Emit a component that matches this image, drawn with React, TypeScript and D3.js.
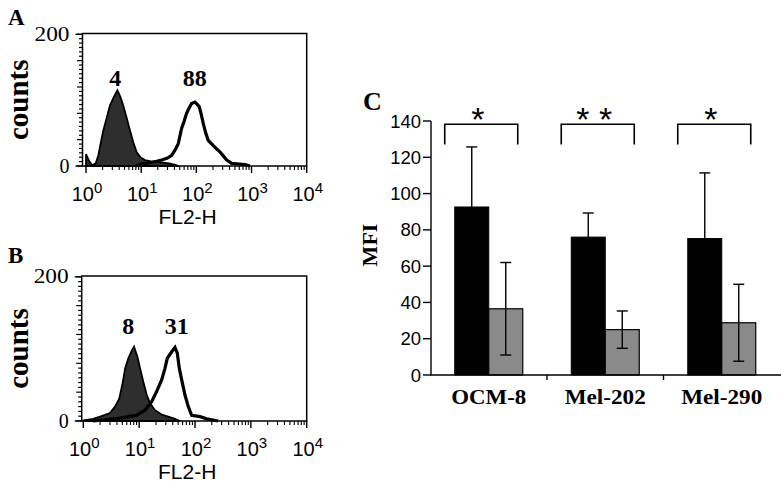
import React from 'react';
import * as d3 from 'd3';

// ---------- Data ----------
// Flow cytometry histograms: [FL2-H intensity, counts]
const histAFilled: [number, number][] = [
  [1, 18], [1.13, 8], [1.3, 1], [1.5, 4], [1.67, 16], [1.85, 35], [2.06, 54], [2.4, 75],
  [2.72, 92], [3.2, 105], [3.7, 115], [4.2, 105], [4.73, 92], [5.5, 72], [6.27, 54],
  [7.2, 36], [8.3, 21], [9.8, 13], [11.7, 9], [15, 7], [19.1, 6], [25, 5], [32, 4],
  [40, 2], [48, 0],
];
const histAOpen: [number, number][] = [
  [8, 0], [10, 3], [14, 5], [19, 7], [23.5, 9], [30, 12], [35.7, 16], [41, 24], [47, 34],
  [54, 57], [60, 68], [66.5, 80], [74, 88], [82, 95], [94, 97], [103, 94], [113, 90],
  [123, 78], [133, 65], [148, 50], [164, 39], [203, 31], [240, 25], [270, 21], [310, 15],
  [355, 9], [436, 4], [600, 3], [760, 2], [935, 0],
];
const histBFilled: [number, number][] = [
  [1, 1], [1.5, 3], [2, 6], [3, 11], [3.7, 20], [4.4, 31], [5.1, 54], [5.6, 73], [6.4, 87],
  [7.4, 98], [8.1, 103], [9.3, 89], [10.4, 73], [11.9, 54], [13.7, 36], [15.6, 25],
  [19.2, 15], [25.3, 9], [33, 6], [43.8, 3], [54, 0],
];
const histBOpen: [number, number][] = [
  [1.5, 0], [2, 1], [4.5, 4], [9, 8], [12.7, 15], [16.8, 27], [20.6, 41], [25.3, 57],
  [29, 73], [31.9, 87], [38.3, 96], [43.8, 102], [48.2, 94], [52.4, 73], [57.8, 57],
  [66.1, 36], [75.8, 20], [87.2, 8], [123, 6], [162, 3], [261, 0],
];
const histALabels = ['4', '88'];
const histBLabels = ['8', '31'];
const logTicks = [1, 10, 100, 1000, 10000];
const countTicks = [0, 200];

// Bar chart (panel C)
const categories = ['OCM-8', 'Mel-202', 'Mel-290'];
const blackMeans = [92.6, 76, 75.2];
const blackErr = [33.1, 13.3, 36.2];
const grayMeans = [36.5, 25, 28.8];
const grayErr = [25.5, 10.3, 21.2];
const significance = ['*', '* *', '*'];
const mfiTicks = [0, 20, 40, 60, 80, 100, 120, 140];

const SERIF = '"Liberation Serif", "Times New Roman", serif';
const SANS = '"Liberation Sans", Arial, sans-serif';

type HistProps = {
  letter: string;
  filled: [number, number][];
  open: [number, number][];
  labels: string[];
  labelAt: number[];
  box: { x0: number; x1: number; y0: number; y1: number };
  xStart: number;
  letterY: number;
};

function Hist({ letter, filled, open, labels, labelAt, box, xStart, letterY }: HistProps) {
  const x = d3.scaleLog().domain([1, 10000]).range([xStart, box.x1]);
  const y = d3.scaleLinear().domain([0, 200]).range([box.y1, box.y0 + 0.8]);
  const area = d3.area<[number, number]>().x(d => x(d[0])).y0(y(0)).y1(d => y(d[1]));
  const line = d3.line<[number, number]>().x(d => x(d[0])).y(d => y(d[1]));
  const minorX: number[] = [];
  for (let e = 0; e < 4; e++) for (let k = 2; k <= 9; k++) minorX.push(k * Math.pow(10, e));
  const minorY = d3.range(0, 31).map(i => (i * 200) / 30);
  const cy = (box.y0 + box.y1) / 2;
  return (
    <g>
      <text x={8} y={letterY} fontFamily={SERIF} fontWeight="bold" fontSize={23}>{letter}</text>
      <path d={area(filled) || ''} fill="#2e2e2e" stroke="#000" strokeWidth={1.8} />
      <path d={line(open) || ''} fill="none" stroke="#000" strokeWidth={3.2} strokeLinejoin="miter" />
      <rect x={box.x0} y={box.y0} width={box.x1 - box.x0} height={box.y1 - box.y0} fill="none" stroke="#000" strokeWidth={1.5} />
      {minorY.map((v, i) => (
        <line key={'my' + i} x1={box.x0} x2={box.x0 - (i % 6 === 0 ? 5.5 : 3.5)} y1={y(v)} y2={y(v)} stroke="#000" strokeWidth={1.2} />
      ))}
      {countTicks.map(v => (
        <g key={'ct' + v}>
          <line x1={box.x0} x2={box.x0 - 7} y1={y(v)} y2={y(v)} stroke="#000" strokeWidth={1.4} />
          <text x={box.x0 - 13} y={y(v) + 6.5} textAnchor="end" fontFamily={SERIF} fontSize={20}
            textLength={v === 200 ? 35 : undefined} lengthAdjust="spacingAndGlyphs">{v}</text>
        </g>
      ))}
      {minorX.map((v, i) => (
        <line key={'mx' + i} x1={x(v)} x2={x(v)} y1={box.y1} y2={box.y1 + 4} stroke="#000" strokeWidth={1.1} />
      ))}
      {logTicks.map((v, i) => (
        <g key={'lt' + v}>
          <line x1={x(v)} x2={x(v)} y1={box.y1} y2={box.y1 + 7} stroke="#000" strokeWidth={1.4} />
          <text x={x(v) + 1} y={box.y1 + 35} textAnchor="middle" fontFamily={SANS} fontSize={20}>
            10<tspan dy={-8} fontSize={15}>{i}</tspan>
          </text>
        </g>
      ))}
      <text x={(box.x0 + box.x1) / 2 - 7} y={box.y1 + 58} textAnchor="middle" fontFamily={SANS} fontSize={21}>FL2-H</text>
      <text transform={`translate(28,${cy}) rotate(-90)`} textAnchor="middle" fontFamily={SERIF} fontWeight="bold" fontSize={29}>counts</text>
      {labels.map((t, i) => (
        <text key={'hl' + i} x={x(labelAt[i])} y={y(121)} textAnchor="middle" fontFamily={SERIF} fontWeight="bold" fontSize={24}>{t}</text>
      ))}
    </g>
  );
}

function Bars() {
  const x = d3.scaleBand<string>().domain(categories).range([430.5, 780]).padding(0);
  const y = d3.scaleLinear().domain([0, 140]).range([375, 121]);
  const bw = 34;
  const cap = 5.5;
  const axisX = 431;
  const errBar = (cx: number, m: number, e: number, key: string) => (
    <g key={key}>
      <line x1={cx} x2={cx} y1={y(m - e)} y2={y(m + e)} stroke="#000" strokeWidth={1.4} />
      <line x1={cx - cap} x2={cx + cap} y1={y(m + e)} y2={y(m + e)} stroke="#000" strokeWidth={1.4} />
      <line x1={cx - cap} x2={cx + cap} y1={y(m - e)} y2={y(m - e)} stroke="#000" strokeWidth={1.4} />
    </g>
  );
  return (
    <g>
      <text x={363} y={110} fontFamily={SERIF} fontWeight="bold" fontSize={26}>C</text>
      <text transform={`translate(377,245) rotate(-90)`} textAnchor="middle" fontFamily={SERIF} fontWeight="bold" fontSize={22}>MFI</text>
      {categories.map((c, i) => {
        const cx = (x(c) as number) + x.bandwidth() / 2;
        return (
          <g key={c}>
            <rect x={cx - bw} y={y(blackMeans[i])} width={bw} height={y(0) - y(blackMeans[i])} fill="#000" stroke="#000" strokeWidth={1} />
            <rect x={cx} y={y(grayMeans[i])} width={bw} height={y(0) - y(grayMeans[i])} fill="#8a8a8a" stroke="#000" strokeWidth={1.2} />
            {errBar(cx - bw / 2, blackMeans[i], blackErr[i], 'eb' + i)}
            {errBar(cx + bw / 2, grayMeans[i], grayErr[i], 'eg' + i)}
            <path d={`M${cx - 44},${y(127)}V${y(138.2)}H${cx + 29}V${y(127)}`} fill="none" stroke="#000" strokeWidth={1.6} />
            <text x={cx - 11} y={131} textAnchor="middle" fontFamily={SANS} fontSize={34}>{significance[i]}</text>
            <text x={cx} y={404} textAnchor="middle" fontFamily={SERIF} fontWeight="bold" fontSize={21}
              textLength={c === 'OCM-8' ? 75 : 81} lengthAdjust="spacingAndGlyphs">{c}</text>
          </g>
        );
      })}
      <line x1={axisX} x2={axisX} y1={y(140)} y2={y(0)} stroke="#000" strokeWidth={1.4} />
      {mfiTicks.map(v => (
        <g key={'yt' + v}>
          <line x1={axisX} x2={axisX - 8} y1={y(v)} y2={y(v)} stroke="#000" strokeWidth={1.4} />
          <text x={421} y={y(v) + 6.5} textAnchor="end" fontFamily={SANS} fontSize={18.5}>{v}</text>
        </g>
      ))}
      <line x1={axisX - 1} x2={781} y1={y(0)} y2={y(0)} stroke="#000" strokeWidth={1.4} />
      {categories.slice(1).map(c => (
        <line key={'xt' + c} x1={x(c) as number} x2={x(c) as number} y1={y(0)} y2={y(0) + 5} stroke="#000" strokeWidth={1.4} />
      ))}
    </g>
  );
}

export default function App() {
  return (
    <svg width={781} height={488} viewBox="0 0 781 488" style={{ position: 'absolute', left: 0, top: 0, background: '#fff' }}>
      <rect x={0} y={0} width={781} height={488} fill="#fff" />
      <Hist letter="A" filled={histAFilled} open={histAOpen} labels={histALabels} labelAt={[3.4, 94]}
        box={{ x0: 82.5, x1: 306.7, y0: 33.5, y1: 166 }} xStart={86} letterY={25} />
      <Hist letter="B" filled={histBFilled} open={histBOpen} labels={histBLabels} labelAt={[6.4, 47]}
        box={{ x0: 81.7, x1: 306.7, y0: 276, y1: 421 }} xStart={83.3} letterY={263} />
      <Bars />
    </svg>
  );
}
